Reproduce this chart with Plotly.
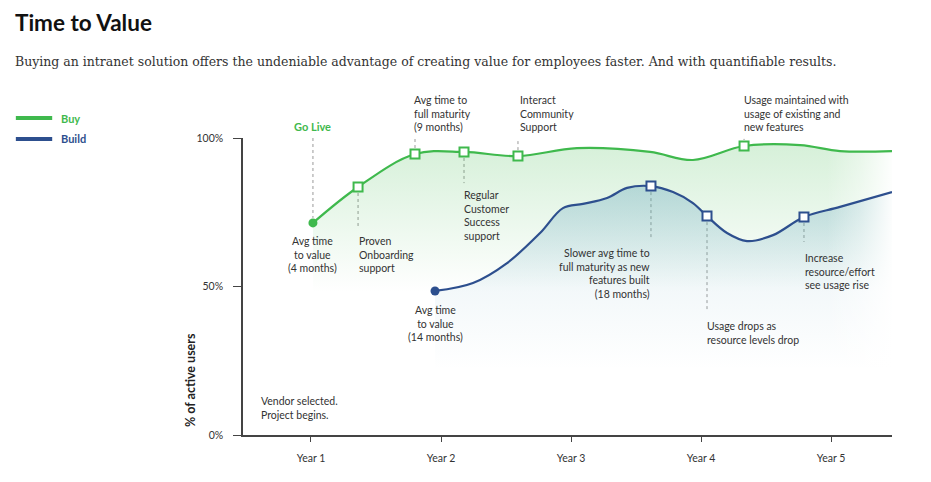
import plotly.graph_objects as go

# ---------------- data ----------------
# x in years (tick "Year n" at n), y in % of active users
buy_x = [1.015, 1.362, 1.80, 2.177, 2.592, 3.046, 3.608, 3.938, 4.331, 4.762, 5.069, 5.469]
buy_y = [71.4, 83.5, 94.6, 95.3, 93.9, 96.6, 95.3, 92.6, 97.3, 97.6, 95.6, 95.6]
buy_squares = [1, 2, 3, 4, 8]

build_x = [1.954, 2.246, 2.508, 2.762, 2.938, 3.092, 3.277, 3.431, 3.615, 3.785, 3.938,
           4.046, 4.2, 4.354, 4.554, 4.792, 5.069, 5.469]
build_y = [48.5, 51.2, 57.9, 68.0, 76.4, 77.8, 79.8, 83.2, 83.8, 81.8, 78.1,
           73.7, 68.0, 65.3, 67.3, 73.4, 76.8, 81.8]
build_squares = [8, 11, 15]

year_ticks = [1, 2, 3, 4, 5]
year_labels = ["Year 1", "Year 2", "Year 3", "Year 4", "Year 5"]
pct_ticks = [0, 50, 100]
pct_labels = ["0%", "50%", "100%"]

X_RANGE = [0.477, 5.469]
Y_RANGE = [0, 100]

GREEN = "#3fb94d"
BLUE = "#2d4f8e"
TEXT = "#333333"
FONT = "Lato"
NOTE_SIZE = 10.5

fig = go.Figure()

# fills
fig.add_trace(go.Scatter(
    x=buy_x, y=buy_y, mode="lines", line=dict(width=0, shape="spline", smoothing=1),
    fill="tozeroy",
    fillgradient=dict(type="vertical", start=48, stop=97,
                      colorscale=[[0, "rgba(63,185,77,0)"], [1, "rgba(63,185,77,0.21)"]]),
    hoverinfo="skip", showlegend=False))
fig.add_trace(go.Scatter(
    x=build_x, y=build_y, mode="lines", line=dict(width=0, shape="spline", smoothing=1),
    fill="tozeroy",
    fillgradient=dict(type="vertical", start=22, stop=84,
                      colorscale=[[0, "rgba(100,165,190,0)"], [0.45, "rgba(100,165,190,0.08)"],
                                  [1, "rgba(100,165,190,0.36)"]]),
    hoverinfo="skip", showlegend=False))
# right-side fade to white
fx0, fx1 = X_RANGE[1] - 0.5, X_RANGE[1]
fig.add_trace(go.Scatter(
    x=[fx0, fx1, fx1, fx0, fx0], y=[0, 0, 100, 100, 0], mode="lines", line=dict(width=0),
    fill="toself",
    fillgradient=dict(type="horizontal", start=fx0, stop=fx1,
                      colorscale=[[0, "rgba(255,255,255,0)"], [0.5, "rgba(255,255,255,0.4)"],
                                  [1, "rgba(255,255,255,0.95)"]]),
    hoverinfo="skip", showlegend=False))

# lines
fig.add_trace(go.Scatter(x=buy_x, y=buy_y, mode="lines",
                         line=dict(color=GREEN, width=2.2, shape="spline", smoothing=1),
                         hoverinfo="skip", showlegend=False))
fig.add_trace(go.Scatter(x=build_x, y=build_y, mode="lines",
                         line=dict(color=BLUE, width=2.2, shape="spline", smoothing=1),
                         hoverinfo="skip", showlegend=False))

# markers
fig.add_trace(go.Scatter(x=[buy_x[0]], y=[buy_y[0]], mode="markers",
                         marker=dict(color=GREEN, size=9), hoverinfo="skip", showlegend=False))
fig.add_trace(go.Scatter(x=[build_x[0]], y=[build_y[0]], mode="markers",
                         marker=dict(color=BLUE, size=9), hoverinfo="skip", showlegend=False))
fig.add_trace(go.Scatter(x=[buy_x[i] for i in buy_squares], y=[buy_y[i] for i in buy_squares],
                         mode="markers",
                         marker=dict(symbol="square", color="white", size=9,
                                     line=dict(color=GREEN, width=2)),
                         hoverinfo="skip", showlegend=False))
fig.add_trace(go.Scatter(x=[build_x[i] for i in build_squares], y=[build_y[i] for i in build_squares],
                         mode="markers",
                         marker=dict(symbol="square", color="white", size=9,
                                     line=dict(color=BLUE, width=2)),
                         hoverinfo="skip", showlegend=False))

# dotted leader lines
leaders = [
    (buy_x[0], 100.0, 73.1),
    (buy_x[1], buy_y[1], 70.0),
    (buy_x[2], buy_y[2], 100.3),
    (buy_x[3], buy_y[3], 84.8),
    (buy_x[4], buy_y[4], 99.7),
    (buy_x[8], buy_y[8], 99.7),
    (build_x[8], build_y[8], 65.7),
    (build_x[11], build_y[11], 41.4),
    (build_x[15], build_y[15], 65.0),
]
shapes = []
for lx, y0, y1 in leaders:
    shapes.append(dict(type="line", xref="x", yref="y", x0=lx, x1=lx, y0=y0, y1=y1,
                       line=dict(color="#9a9a9a", width=1, dash="dot"), layer="below"))

# legend shapes
shapes.append(dict(type="line", xref="paper", yref="paper", x0=-0.350, x1=-0.294, y0=1.067, y1=1.067,
                   line=dict(color=GREEN, width=4)))
shapes.append(dict(type="line", xref="paper", yref="paper", x0=-0.350, x1=-0.294, y0=0.997, y1=0.997,
                   line=dict(color=BLUE, width=4)))

ann = []
def note(x, y, text, xanchor="left", align="left", color=TEXT, size=NOTE_SIZE, bold=False):
    # y given in % (same scale as the y axis, range 0-100) -> paper fraction so
    # notes above 100% are not hidden
    if bold:
        text = "<b>" + text + "</b>"
    ann.append(dict(x=x, y=y / 100.0, xref="x", yref="paper", text=text, showarrow=False,
                    xanchor=xanchor, yanchor="middle", align=align,
                    font=dict(family=FONT, size=size, color=color)))

note(buy_x[0], 104.0, "Go Live", xanchor="center", align="center", color=GREEN, size=11, bold=True)
note(1.78, 108.4, "Avg time to<br>full maturity<br>(9 months)")
note(2.595, 108.4, "Interact<br>Community<br>Support")
note(4.318, 108.4, "Usage maintained with<br>usage of existing and<br>new features")
note(buy_x[0], 60.9, "Avg time<br>to value<br>(4 months)", xanchor="center", align="center")
note(1.35, 60.9, "Proven<br>Onboarding<br>support")
note(2.165, 73.9, "Regular<br>Customer<br>Success<br>support")
note(build_x[0], 37.5, "Avg time<br>to value<br>(14 months)", xanchor="center", align="center")
note(3.625, 54.4, "Slower avg time to<br>full maturity as new<br>features built<br>(18 months)",
     xanchor="right", align="right")
note(4.03, 34.2, "Usage drops as<br>resource levels drop")
note(4.785, 55.2, "Increase<br>resource/effort<br>see usage rise")
note(0.60, 9.1, "Vendor selected.<br>Project begins.")

# y-axis title
ann.append(dict(x=-0.0817, y=0.185, xref="paper", yref="paper", text="<b>% of active users</b>",
                textangle=-90, showarrow=False, xanchor="center", yanchor="middle",
                font=dict(family=FONT, size=12.5, color="#222")))
# legend texts
ann.append(dict(x=-0.283, y=1.067, xref="paper", yref="paper", text="<b>Buy</b>", showarrow=False,
                xanchor="left", yanchor="middle", font=dict(family=FONT, size=11, color=GREEN)))
ann.append(dict(x=-0.283, y=0.997, xref="paper", yref="paper", text="<b>Build</b>", showarrow=False,
                xanchor="left", yanchor="middle", font=dict(family=FONT, size=11, color=BLUE)))
# title & subtitle
ann.append(dict(x=-0.355, y=1.389, xref="paper", yref="paper", text="<b>Time to Value</b>",
                showarrow=False, xanchor="left", yanchor="middle",
                font=dict(family=FONT, size=22.5, color="#111")))
ann.append(dict(x=-0.355, y=1.259, xref="paper", yref="paper",
                text="Buying an intranet solution offers the undeniable advantage of creating value for employees faster. And with quantifiable results.",
                showarrow=False, xanchor="left", yanchor="middle",
                font=dict(family="DejaVu Serif", size=12.5, color="#333")))

# page body has an 8px default margin, so the figure is 8px smaller than the window
fig.update_layout(
    width=923, height=474,
    margin=dict(l=235, r=39, t=130, b=47),
    paper_bgcolor="white", plot_bgcolor="white",
    shapes=shapes, annotations=ann, showlegend=False,
    font=dict(family=FONT, size=10, color=TEXT),
    xaxis=dict(range=X_RANGE, tickvals=year_ticks, ticktext=year_labels, showgrid=False,
               zeroline=False, showline=True, linecolor="#444", linewidth=1.5,
               ticks="outside", ticklen=5, tickcolor="#444", tickwidth=1.2,
               tickfont=dict(family=FONT, size=10.5, color=TEXT), ticklabelstandoff=8, fixedrange=True),
    yaxis=dict(range=Y_RANGE, tickvals=pct_ticks, ticktext=pct_labels, showgrid=False,
               zeroline=False, showline=True, linecolor="#444", linewidth=1.5,
               ticks="outside", ticklen=8, tickcolor="#444", tickwidth=1.2,
               tickfont=dict(family=FONT, size=10.5, color=TEXT), ticklabelstandoff=8, fixedrange=True),
)

fig.write_html("out.html")
